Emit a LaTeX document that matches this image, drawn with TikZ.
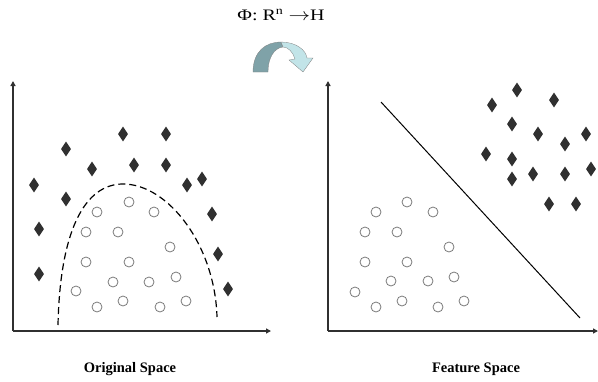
\documentclass[tikz,border=0pt]{standalone}
\usepackage{fontspec}
\setmainfont{Liberation Serif}
\usepackage{graphicx}
\usepackage{tikz}
\usetikzlibrary{shapes.geometric, arrows.meta, positioning, calc}

\definecolor{axisgray}{HTML}{303030}
\definecolor{ringgray}{HTML}{7A7A7A}
\definecolor{bentdark}{HTML}{7FA2A8}
\definecolor{bentlight}{HTML}{C2E4E8}

\begin{document}
\begin{tikzpicture}[
		x=1pt, y=-1pt,
		every node/.style={font=\small},
		gem/.style={diamond, fill=axisgray, inner sep=0pt, minimum width=10pt, minimum height=15pt},
		ring/.style={circle, draw=ringgray, line width=0.8pt, fill=white, inner sep=0pt, minimum size=10pt},
		axis/.style={line width=1.4pt, draw=axisgray, -{Triangle[length=5pt, width=5pt]}},
		caption/.style={font=\bfseries\fontsize{14.5}{16}\selectfont}
		]
		\useasboundingbox (0,0) rectangle (598,381);
		
		% Ejes
		\coordinate (o1) at (13,331);
		\coordinate (x1) at (271,331);
		\coordinate (y1) at (13,81);
		\coordinate (o2) at (328,331);
		\coordinate (x2) at (598,331);
		\coordinate (y2) at (328,81);
		\draw[axis] (o1) -- (y1);
		\draw[axis] (o1) -- (x1);
		\draw[axis] (o2) -- (y2);
		\draw[axis] (o2) -- (x2);
		
		% Espacio original
		\foreach \x/\y [count=\i] in {123/134, 166/134, 66/149, 92/169, 134/165, 166/165, 34/185, 187/185,
				202/179, 66/199, 212/214, 39/229, 218/254, 39/274, 228/289}
		\node[gem] (a\i) at (\x,\y) {};
		\foreach \x/\y [count=\i] in {129/202, 97/212, 154/212, 86/232, 118/232, 170/247, 86/262, 129/262,
				113/282, 149/282, 176/277, 76/291, 97/307, 123/301, 160/307, 186/301}
		\node[ring] (b\i) at (\x,\y) {};
		
		% Frontera
		\coordinate (c1) at (58,325);
		\coordinate (c2) at (123,184);
		\coordinate (c3) at (217,317);
		\draw[line width=1.2pt, dash pattern=on 7pt off 4pt] (c1) .. controls (60,230) and (85,184) .. (c2)
			.. controls (168,184) and (215,245) .. (c3);
		
		% Espacio de caracteristicas
		\foreach \x/\y [count=\i] in {517/90, 492/105, 554/100, 512/124, 538/134, 565/144, 586/134, 486/154,
				512/159, 533/174, 565/174, 591/169, 512/179, 549/204, 576/204}
		\node[gem] (p\i) at (\x,\y) {};
		\foreach \x/\y [count=\i] in {407/202, 376/212, 433/212, 365/232, 397/232, 449/247, 365/262, 407/262,
				391/281, 428/281, 454/277, 355/292, 376/307, 402/301, 438/307, 464/301}
		\node[ring] (q\i) at (\x,\y) {};
		
		% Hiperplano
		\coordinate (h1) at (381,102);
		\coordinate (h2) at (580,318);
		\draw[line width=1pt] (h1) -- (h2);
		
		% Flecha curva
		\fill[bentdark, draw=gray, line width=0.3pt] (253,72) .. controls (253,52) and (265,42) .. (281,42)
			-- (283,47) .. controls (274,48) and (268,58) .. (268,72) -- cycle;
		\fill[bentlight, draw=gray, line width=0.3pt] (281,42) .. controls (296,42) and (306,50) .. (307,58)
			-- (313,58) -- (303,72) -- (289,60) -- (295,59) .. controls (293,52) and (288,47) .. (283,47) -- cycle;
		
		% Textos
		\node[font=\fontsize{16}{18}\selectfont] (map) at (281,15)
			{\scalebox{1.25}[1]{Φ: R\textsuperscript{n} $\rightarrow$H}};
		\node[caption] (orig) at (130,369) {Original Space};
		\node[caption] (feat) at (476,369) {Feature Space};
	\end{tikzpicture}
\end{document}
